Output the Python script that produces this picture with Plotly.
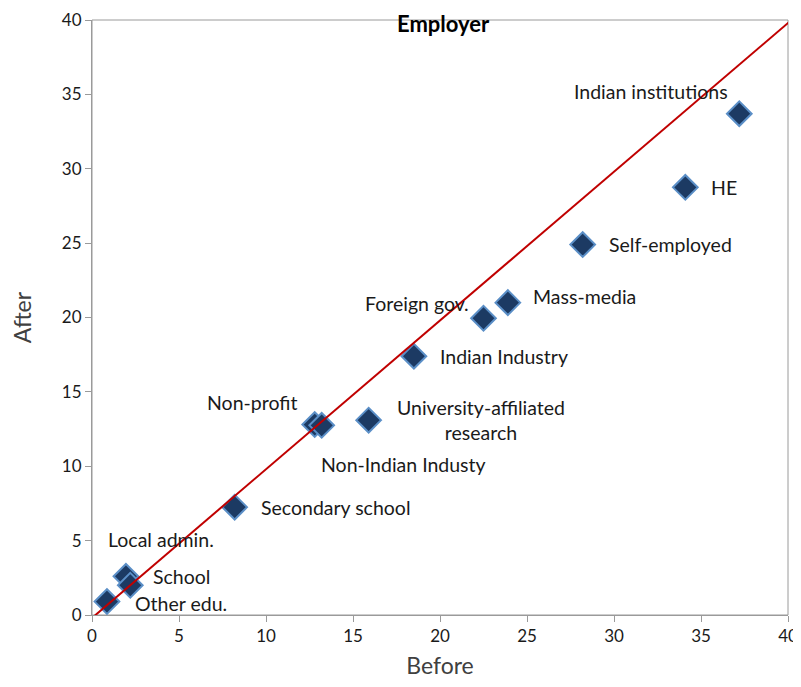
import plotly.graph_objects as go

categories = ["Indian institutions", "HE", "Self-employed", "Mass-media", "Foreign gov.",
              "Indian Industry", "University-affiliated<br>research", "Non-profit",
              "Non-Indian Industy", "Secondary school", "Local admin.", "School", "Other edu."]
before = [37.2, 34.1, 28.2, 23.9, 22.5, 18.5, 15.9, 12.8, 13.2, 8.2, 1.95, 2.2, 0.86]
after = [33.7, 28.75, 24.9, 21.0, 19.95, 17.4, 13.1, 12.8, 12.75, 7.25, 2.6, 2.0, 0.9]

ref_x = [-0.2, 40.6]
ref_y = [-0.4, 40.4]

# label placement (pixel offsets, anchors)
label_dx = [-88, 24, 24, 23, -13, 24, 112, -63, 82, 24, 35, 21, 26]
label_dy = [-22, 0, 0, -6, -15, 0, 0, -22, 39, 0, -37, -9, 2]
label_anchor = ["center", "left", "left", "left", "right", "left", "center", "center",
                "center", "left", "center", "left", "left"]

fig = go.Figure()
fig.add_trace(go.Scatter(
    x=before, y=after, mode="markers",
    marker=dict(symbol="diamond", size=19, color="#1c3a63",
                line=dict(color="#5b8fc7", width=2)),
    showlegend=False, cliponaxis=False))
fig.add_trace(go.Scatter(
    x=ref_x, y=ref_y, mode="lines",
    line=dict(color="#c00000", width=2), showlegend=False, cliponaxis=False))

for c, x, y, dx, dy, a in zip(categories, before, after, label_dx, label_dy, label_anchor):
    fig.add_annotation(x=x, y=y, text=c, showarrow=False, xshift=dx, yshift=-dy,
                       xanchor=a, yanchor="middle", align="center",
                       font=dict(family="Lato", size=19.5, color="#1a1a1a"))

fig.add_annotation(xref="paper", yref="paper", x=0.505, y=1.0202, yanchor="top",
                   text="<b>Employer</b>", showarrow=False,
                   font=dict(family="Lato", size=22, color="#000000"))

axis_common = dict(showgrid=False, zeroline=False, showline=True, linecolor="#9a9a9a",
                   linewidth=1, ticks="outside", ticklen=6, tickcolor="#9a9a9a",
                   mirror=False, tickfont=dict(family="Lato", size=17, color="#1a1a1a"),
                   dtick=5, automargin=False)
fig.update_xaxes(range=[0, 40], title=dict(text="Before", font=dict(family="Lato", size=23, color="#404040"), standoff=12),
                 **axis_common)
fig.update_yaxes(range=[0, 40], title=dict(text="After", font=dict(family="Lato", size=23, color="#404040"), standoff=24),
                 **axis_common)

fig.add_shape(type="rect", xref="paper", yref="paper", x0=0, y0=0, x1=1, y1=1,
              line=dict(color="#9a9a9a", width=1), layer="below")

fig.update_layout(width=792, height=671, margin=dict(l=84, r=12, t=12, b=64, autoexpand=False),
                  plot_bgcolor="white", paper_bgcolor="white")

fig.write_html("out.html")
